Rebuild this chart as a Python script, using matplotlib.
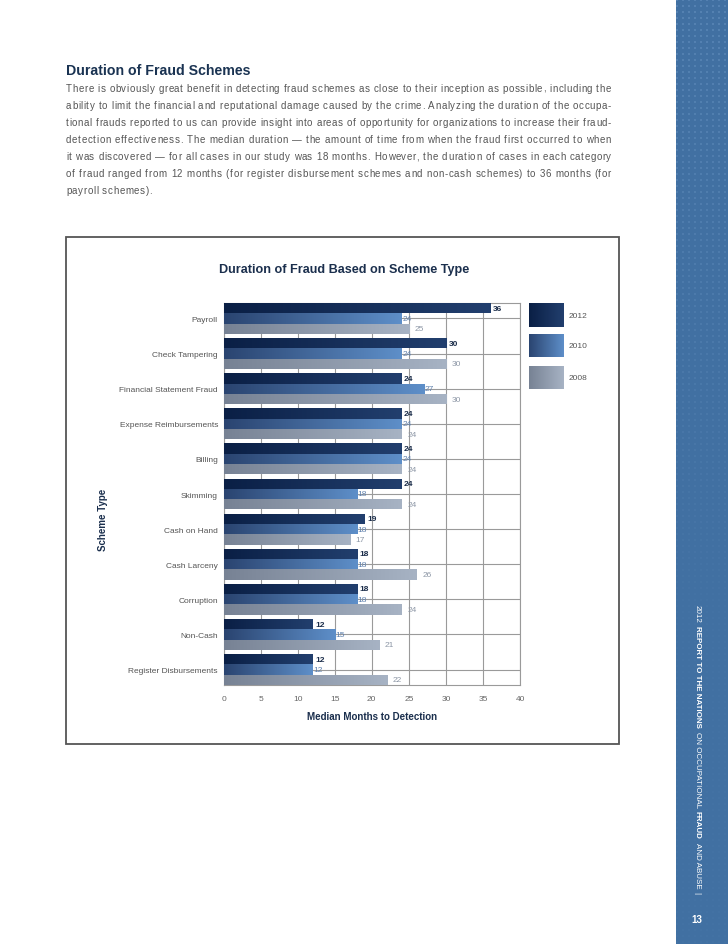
import numpy as np
import matplotlib
matplotlib.use('Agg')
import matplotlib.pyplot as plt
from matplotlib.colors import LinearSegmentedColormap
from matplotlib.patches import Rectangle

plt.rcParams['font.family'] = ['Liberation Sans', 'DejaVu Sans']

# page size in pixels
W, H = 728, 945

schemes = ['Payroll', 'Check Tampering', 'Financial Statement Fraud',
           'Expense Reimbursements', 'Billing', 'Skimming', 'Cash on Hand',
           'Cash Larceny', 'Corruption', 'Non-Cash', 'Register Disbursements']
months_2012 = [36, 30, 24, 24, 24, 24, 19, 18, 18, 12, 12]
months_2010 = [24, 24, 27, 24, 24, 18, 18, 18, 18, 15, 12]
months_2008 = [25, 30, 30, 24, 24, 24, 17, 26, 24, 21, 22]
years = ['2012', '2010', '2008']
x_ticks = [0, 5, 10, 15, 20, 25, 30, 35, 40]

page_title = 'Duration of Fraud Schemes'
paragraph = [
    'There is obviously great benefit in detecting fraud schemes as close to their inception as possible, including the',
    'ability to limit the financial and reputational damage caused by the crime. Analyzing the duration of the occupa-',
    'tional frauds reported to us can provide insight into areas of opportunity for organizations to increase their fraud-',
    'detection effectiveness. The median duration \u2014 the amount of time from when the fraud first occurred to when',
    'it was discovered \u2014 for all cases in our study was 18 months. However, the duration of cases in each category',
    'of fraud ranged from 12 months (for register disbursement schemes and non-cash schemes) to 36 months (for',
    'payroll schemes).',
]

NAVY = '#1b2f4d'
grad_colors = {
    '2012': ['#0a1f45', '#223f6e'],
    '2010': ['#2a4470', '#5e8fc9'],
    '2008': ['#778294', '#a7b3c4'],
}
label_style = {
    '2012': dict(color='#1b2d4a', fontweight='bold', dx=0.35),
    '2010': dict(color='#5e80ad', fontweight='normal', dx=0.1),
    '2008': dict(color='#8d97a6', fontweight='normal', dx=0.8),
}
cmaps = {k: LinearSegmentedColormap.from_list(k, v) for k, v in grad_colors.items()}
grad = np.linspace(0, 1, 256).reshape(1, -1)


def fx(x):
    return x / W


def fy(y):
    return 1 - y / H


fig = plt.figure(figsize=(W / 100, H / 100), dpi=100)
fig.patch.set_facecolor('white')
renderer = fig.canvas.get_renderer()

# ---- side strip ----
sax = fig.add_axes([fx(676), 0, 52 / W, 1])
sax.axis('off')
strip = np.zeros((H, 52, 3))
strip[:] = np.array([0x41, 0x70, 0xa2]) / 255
rows = np.arange(H)[:, None]
cols = np.arange(52)[None, :]
dots = (rows % 6 < 2) & (cols % 6 < 2)
fade = np.clip(1.0 - rows / 700.0, 0.15, 1.0) * np.ones((1, 52))
light = np.array([0x62, 0x8e, 0xbd]) / 255
for c in range(3):
    strip[:, :, c] = np.where(dots, strip[:, :, c] * (1 - 0.6 * fade) + light[c] * 0.6 * fade, strip[:, :, c])
sax.imshow(strip, aspect='auto', interpolation='nearest')

# vertical running footer
pieces = [('2012', 'normal'), ('REPORT TO THE NATIONS', 'bold'), ('ON OCCUPATIONAL', 'normal'),
          ('FRAUD', 'bold'), ('AND ABUSE', 'normal'), ('|', 'normal')]
y_cur = 605
for txt, wt in pieces:
    t = fig.text(fx(697), fy(y_cur), txt, rotation=-90, ha='center', va='top',
                 fontsize=5.8, fontweight=wt, color='white')
    bb = t.get_window_extent(renderer)
    y_cur += bb.height + 3.5
fig.text(fx(697), fy(920), '13', ha='center', va='center', fontsize=7,
         fontweight='bold', color='white')

# ---- heading and paragraph ----
fig.text(fx(66), fy(75), page_title, ha='left', va='baseline', fontsize=10.2,
         fontweight='bold', color='#1a3352')

# body text is letter-spaced and justified, so place it glyph by glyph
BODY_SIZE = 7.0
_cw = {}


def char_width(c):
    if c not in _cw:
        t1 = fig.text(0, 0, '|' + c + '|', fontsize=BODY_SIZE)
        t2 = fig.text(0, 0, '||', fontsize=BODY_SIZE)
        _cw[c] = t1.get_window_extent(renderer).width - t2.get_window_extent(renderer).width
        t1.remove()
        t2.remove()
    return _cw[c]


x_left, x_right = 66, 611
tracks = []
for line in paragraph[:-1]:
    natural = sum(char_width(c) for c in line)
    tracks.append((x_right - x_left - natural) / (len(line) - 1))
tracks.append(np.mean(tracks))

for i, line in enumerate(paragraph):
    base = fy(89 + 17 * i + 3)
    xc = x_left
    for c in line:
        if c != ' ':
            fig.text(fx(xc), base, c, ha='left', va='baseline', fontsize=BODY_SIZE,
                     color='#555555')
        xc += char_width(c) + tracks[i]

# ---- chart box ----
fig.patches.append(Rectangle((fx(66), fy(745)), (619 - 66) / W, (745 - 238) / H,
                             transform=fig.transFigure, fill=False,
                             edgecolor='#555555', linewidth=1.3))
fig.text(fx(344), fy(270), 'Duration of Fraud Based on Scheme Type', ha='center',
         va='center', fontsize=9.1, fontweight='bold', color=NAVY)

# ---- bar chart ----
ax = fig.add_axes([fx(223.5), fy(686), (520 - 223.5) / W, (686 - 304) / H])
bar_h = 0.294
pos = np.arange(len(schemes))
series = {'2012': months_2012, '2010': months_2010, '2008': months_2008}
offsets = {'2012': -bar_h, '2010': 0.0, '2008': bar_h}

for yr in years:
    vals = series[yr]
    ys = pos + offsets[yr]
    bars = ax.barh(ys, vals, height=bar_h, color=grad_colors[yr][1], zorder=2, linewidth=0)
    st = label_style[yr]
    for b, v, yy in zip(bars, vals, ys):
        im = ax.imshow(grad, extent=[0, v, yy + bar_h / 2, yy - bar_h / 2],
                       cmap=cmaps[yr], aspect='auto', interpolation='bicubic', zorder=3)
        im.set_clip_path(b)
        ax.text(v + st['dx'], yy, str(v), ha='left', va='center', fontsize=6,
                color=st['color'], fontweight=st['fontweight'], zorder=4)

ax.set_xlim(0, 40)
ax.set_ylim(len(schemes) - 1 + 1.5 * bar_h, -1.5 * bar_h)
ax.set_xticks(x_ticks)
ax.set_yticks(pos)
ax.set_yticklabels(schemes)
ax.grid(True, color='#9a9a9a', linewidth=0.8, zorder=0)
ax.set_axisbelow(True)
for sp in ax.spines.values():
    sp.set_color('#9a9a9a')
    sp.set_linewidth(0.8)
ax.tick_params(axis='y', length=0, pad=4, labelsize=6, labelcolor='#555555')
ax.tick_params(axis='x', length=0, pad=7, labelsize=6, labelcolor='#666666')

ax.set_xlabel('Median Months to Detection', fontsize=7, fontweight='bold', color=NAVY, va='center')
ax.xaxis.set_label_coords((372 - 223.5) / 296.5, (686 - 717) / 382)
ax.set_ylabel('Scheme Type', fontsize=7, fontweight='bold', color=NAVY, va='center')
ax.yaxis.set_label_coords((103 - 223.5) / 296.5, (686 - 520) / 382)

# ---- legend ----
lax = fig.add_axes([fx(529), fy(390), 35 / W, 86 / H])
lax.axis('off')
leg_rows = {'2012': (0, 24), '2010': (31, 54), '2008': (63, 86)}
for yr in years:
    top, bot = leg_rows[yr]
    lax.imshow(grad, extent=[0, 1, bot, top], cmap=cmaps[yr], aspect='auto',
               interpolation='bicubic')
    fig.text(fx(569), fy(304 + (top + bot) / 2), yr, ha='left', va='center',
             fontsize=6, color='#555555')
lax.set_xlim(0, 1)
lax.set_ylim(86, 0)

fig.savefig('out.png', dpi=100)
